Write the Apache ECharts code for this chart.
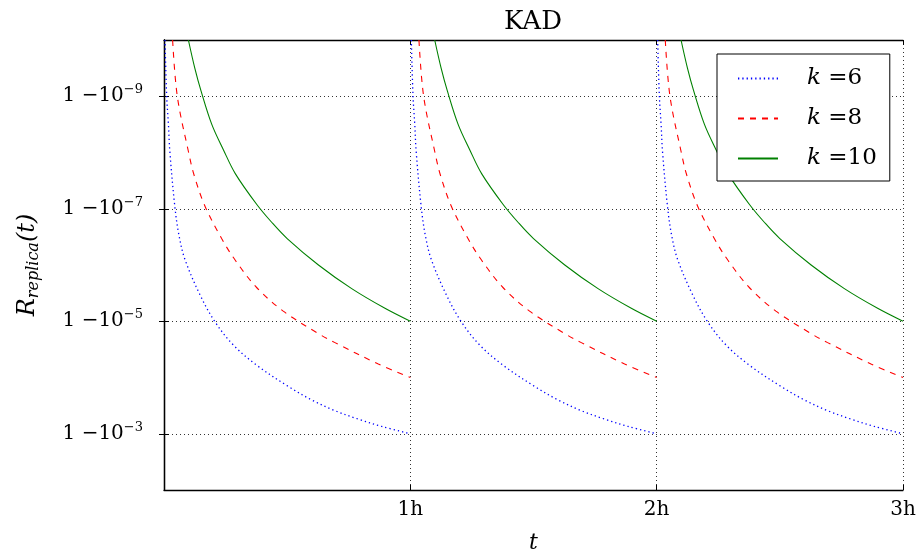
<!DOCTYPE html>
<html>
<head>
<meta charset="utf-8">
<script src="https://cdn.jsdelivr.net/npm/echarts@6/dist/echarts.min.js"></script>
<style>
  html, body { margin: 0; padding: 0; background: #fff; }
  #main { width: 920px; height: 553px; }
</style>
</head>
<body>
<div id="main"></div>
<script>
// one period (0..1h): [t in hours, log10(1 - R)]
const periods = [0, 1, 2];
const k6 = [[0.004, -10], [0.011, -9], [0.018, -8.5], [0.024, -8], [0.045, -7], [0.062, -6.5],
  [0.085, -6.1], [0.146, -5.47], [0.207, -4.99], [0.281, -4.58], [0.376, -4.22], [0.505, -3.84],
  [0.6, -3.6], [0.694, -3.41], [0.789, -3.26], [0.884, -3.13], [1, -3.0]];
const k8 = [[0.035, -10], [0.054, -9], [0.1, -8], [0.122, -7.6], [0.166, -7.05], [0.234, -6.47],
  [0.29, -6.08], [0.376, -5.6], [0.484, -5.18], [0.627, -4.78], [0.694, -4.62], [0.87, -4.24], [1, -4.0]];
const k10 = [[0.099, -10], [0.125, -9.5], [0.15, -9.1], [0.194, -8.5], [0.241, -8.05], [0.29, -7.62],
  [0.376, -7.08], [0.437, -6.76], [0.5, -6.47], [0.627, -6.0], [0.762, -5.58], [0.897, -5.23], [1, -5.0]];
const yTicks = [-9, -7, -5, -3];
const xTicks = ['', '1h', '2h', '3h'];

const font = 'DejaVu Serif';

const lines = [
  { name: 'k=6', data: k6, color: '#0000ff', dash: [1.3, 3], width: 1.3 },
  { name: 'k=8', data: k8, color: '#ff0000', dash: [6, 6], width: 1.1 },
  { name: 'k=10', data: k10, color: '#008000', dash: 'solid', width: 1.1 }
];

// each hour is drawn as its own piece, so there is no line across the reset
const series = [];
lines.forEach(l => {
  periods.forEach(p => {
    series.push({
      name: l.name,
      type: 'line',
      data: l.data.map(d => [p + d[0], d[1]]),
      showSymbol: false,
      symbol: 'none',
      smooth: 0.35,
      clip: true,
      color: l.color,
      lineStyle: { color: l.color, width: l.width, type: l.dash },
      emphasis: { disabled: true },
      z: 3
    });
  });
});

const chart = echarts.init(document.getElementById('main'));

const tickStyle = { show: true, inside: true, length: 5, lineStyle: { color: '#000', width: 1 } };
const lineStyle = { show: true, lineStyle: { color: '#000', width: 1.3 } };
const gridLine = { show: true, lineStyle: { color: '#333', width: 1, type: [1, 3] } };

chart.setOption({
  animation: false,
  title: {
    text: 'KAD',
    left: 533,
    top: 9,
    textAlign: 'center',
    padding: 0,
    textStyle: { fontFamily: font, fontSize: 26, fontWeight: 'normal', color: '#000' }
  },
  legend: {
    orient: 'vertical',
    left: 717,
    top: 54,
    padding: [13, 13, 11, 20],
    itemGap: 17,
    itemWidth: 40,
    itemHeight: 14,
    backgroundColor: '#fff',
    borderColor: '#000',
    borderWidth: 1,
    itemStyle: { opacity: 0 },
    data: lines.map(l => l.name),
    formatter: n => '{i|k}{n| =' + n.split('=')[1] + '}',
    textStyle: {
      padding: [0, 0, 0, 24],
      rich: {
        i: { fontFamily: font, fontStyle: 'italic', fontSize: 23, color: '#000' },
        n: { fontFamily: font, fontSize: 23, color: '#000' }
      }
    },
    z: 10
  },
  grid: { left: 164, right: 17, top: 40, bottom: 63, outerBoundsMode: 'none', containLabel: false },
  xAxis: [
    {
      type: 'value', min: 0, max: 3, interval: 1, position: 'bottom',
      axisLine: lineStyle, axisTick: tickStyle,
      axisLabel: {
        margin: 10, fontFamily: font, fontSize: 20, color: '#000',
        formatter: v => xTicks[Math.round(v)]
      },
      splitLine: gridLine,
      name: 't', nameLocation: 'middle', nameGap: 42,
      nameTextStyle: { fontFamily: font, fontStyle: 'italic', fontSize: 22, color: '#000' }
    },
    {
      type: 'value', min: 0, max: 3, interval: 1, position: 'top',
      axisLine: lineStyle, axisTick: tickStyle,
      axisLabel: { show: false }, splitLine: { show: false }
    }
  ],
  yAxis: [
    {
      type: 'value', min: -10, max: -2, inverse: true, position: 'left',
      axisLine: lineStyle,
      axisTick: Object.assign({ customValues: yTicks }, tickStyle),
      axisLabel: {
        customValues: yTicks,
        margin: 21, color: '#000',
        formatter: v => '{b|1 \u221210}{s|\u2212' + Math.abs(v) + '}',
        rich: {
          b: { fontFamily: font, fontSize: 20, color: '#000', lineHeight: 26 },
          s: { fontFamily: font, fontSize: 13, color: '#000', verticalAlign: 'top', lineHeight: 26, padding: [0, 0, 10, 0] }
        }
      },
      splitLine: gridLine,
      name: '{r|R}{sub|replica}{p|(t)}',
      nameLocation: 'middle',
      nameGap: 122,
      nameRotate: 90,
      nameTextStyle: {
        rich: {
          r: { fontFamily: font, fontStyle: 'italic', fontSize: 24, color: '#000' },
          sub: { fontFamily: font, fontStyle: 'italic', fontSize: 16, color: '#000', verticalAlign: 'bottom', padding: [12, 0, 0, 0] },
          p: { fontFamily: font, fontStyle: 'italic', fontSize: 24, color: '#000' }
        }
      }
    },
    {
      type: 'value', min: -10, max: -2, inverse: true, position: 'right',
      axisLine: lineStyle,
      axisTick: Object.assign({ customValues: yTicks }, tickStyle),
      axisLabel: { show: false }, splitLine: { show: false }
    }
  ],
  series: series
});
</script>
</body>
</html>
